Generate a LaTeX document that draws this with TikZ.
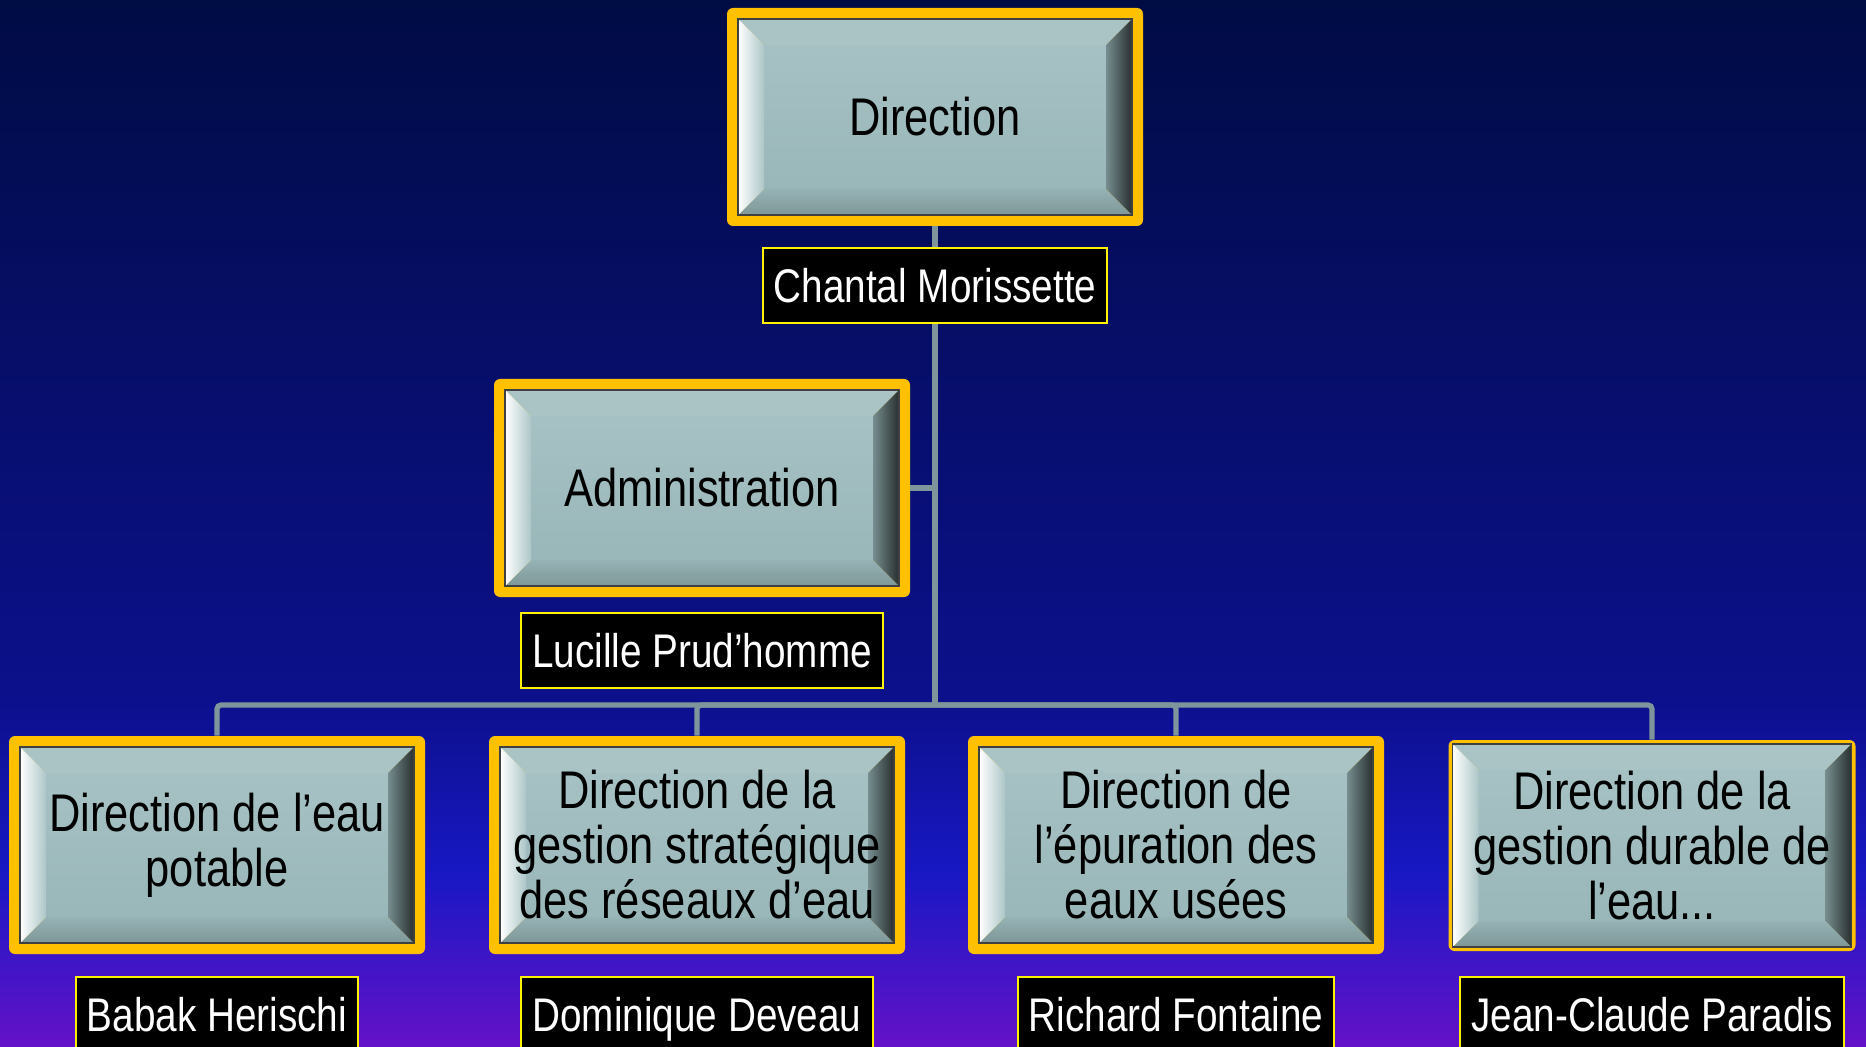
\documentclass[tikz,border=0pt]{standalone}
\usepackage{fontspec}
\setmainfont{Liberation Sans}[FakeStretch=0.82]
\usetikzlibrary{calc,positioning}
\definecolor{bgtop}{HTML}{000C44}
\definecolor{bgmid}{HTML}{0C108C}
\definecolor{bgblue}{HTML}{1818C4}
\definecolor{bgbot}{HTML}{6412C8}
\definecolor{orangeb}{HTML}{FFC000}
\definecolor{face}{HTML}{9EBCBE}
\definecolor{linkgray}{HTML}{7F959C}
\definecolor{namey}{HTML}{FFF200}
\tikzset{
  unitbox/.style={rounded corners=3pt, fill=orangeb, minimum width=208pt, minimum height=109pt,
    inner sep=0pt, align=center, text=black, font=\fontsize{26.5}{27.5}\selectfont,
    path picture={
      \begin{scope}[sharp corners]
      \coordinate (p1) at ($(path picture bounding box.south west)+(#1,#1)$);
      \coordinate (p2) at ($(path picture bounding box.north east)-(#1,#1)$);
      \coordinate (q1) at ($(p1)+(13pt,13pt)$);
      \coordinate (q2) at ($(p2)-(13pt,13pt)$);
      % face et biseaux
      \shade[top color=face!92!white, bottom color=face!97!black] (q1) rectangle (q2);
      \fill[face!88!white] (p1 |- p2) -- (q1 |- q2) -- (q2) -- (p2) -- cycle;
      \shade[top color=face!95!black, bottom color=face!80!black] (p1) -- (q1) -- (q2 |- q1) -- (p2 |- p1) -- cycle;
      \shade[left color=white, right color=face!85!white] (p1) -- (q1) -- (q1 |- q2) -- (p1 |- p2) -- cycle;
      \shade[left color=face!75!black, right color=black!75!face] (p2 |- p1) -- (q2 |- q1) -- (q2) -- (p2) -- cycle;
      \draw[black!75, line width=0.6pt] (p1) rectangle (p2);
      \end{scope}
    }},
  unitbox/.default=5.5pt,
  person/.style={fill=black, draw=namey, line width=1pt, text=white, minimum height=37.5pt,
    inner xsep=5.5pt, text height=16.8pt, text depth=0pt, font=\fontsize{23.6}{25}\selectfont},
  linkline/.style={draw=linkgray, line width=2.6pt, rounded corners=2pt}
}
\begin{document}
\begin{tikzpicture}[x=0.5pt,y=-0.5pt]
  \useasboundingbox (0,0) rectangle (1866,1047);
  \clip (0,0) rectangle (1866,1047);
  % fond
  \fill[top color=bgtop, bottom color=bgmid] (0,0) rectangle (1866,701);
  \fill[top color=bgmid, bottom color=bgbot, middle color=bgblue] (0,700) rectangle (1866,1047);
  % boites
  \node[unitbox] (dir) at (935,117) {Direction};
  \node[unitbox] (adm) at (702,488) {Administration};
  \foreach \x/\n/\t in {217/u1/{Direction de l’eau\\potable},
      697/u2/{Direction de la\\gestion stratégique\\des réseaux d’eau},
      1176/u3/{Direction de\\l’épuration des\\eaux usées}}
    \node[unitbox] (\n) at (\x,845) {\t};
  \node[unitbox=2pt, minimum width=203.5pt, minimum height=105.5pt] (u4) at (1652,845.5)
    {Direction de la\\gestion durable de\\l’eau...};
  % liens
  \coordinate (bus) at (935,705);
  \draw[linkline] (dir.south) -- (bus);
  \draw[linkline] (adm.east) -- (adm.east -| bus);
  \foreach \n in {u1,u2,u3,u4}
    \draw[linkline] (bus) -| (\n.north);
  % responsables
  \node[person, below=10.5pt of dir] (dirp) {Chantal Morissette};
  \node[person, below=7.5pt of adm] (admp) {Lucille Prud’homme};
  \foreach \n/\p/\d in {u1/Babak Herischi/11pt, u2/Dominique Deveau/11pt,
      u3/Richard Fontaine/11pt, u4/Jean-Claude Paradis/12.5pt}
    \node[person, below=\d of \n] (\n p) {\p};
\end{tikzpicture}
\end{document}
